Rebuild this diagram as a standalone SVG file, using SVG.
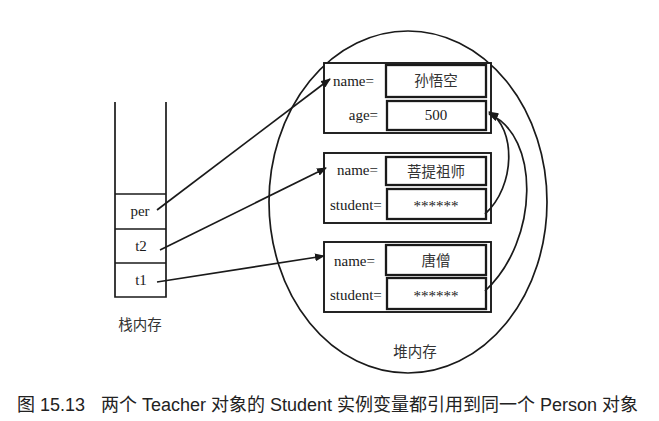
<svg xmlns="http://www.w3.org/2000/svg" width="659" height="421" viewBox="0 0 659 421">
<defs>
<style>
.ln{fill:none;stroke:#1a1a1a;stroke-width:1.7}
.ob{fill:#fff;stroke:#1a1a1a;stroke-width:1.9}
.vb{fill:#fff;stroke:#1a1a1a;stroke-width:2.3}
.lab{font-family:"Liberation Serif","Times New Roman",serif;font-size:15px;fill:#1a1a1a}
.cn{font-family:"Liberation Sans","Noto Sans CJK SC",sans-serif;font-size:14.5px;fill:#333}
.cap{font-family:"Liberation Sans","Noto Sans CJK SC",sans-serif;font-size:18px;fill:#222}
.ar{fill:none;stroke:#1a1a1a;stroke-width:1.7;marker-end:url(#ah)}
</style>
<marker id="ah" markerWidth="10" markerHeight="8" refX="9" refY="4" orient="auto" markerUnits="userSpaceOnUse">
<path d="M0,0 L10,4 L0,8 Z" fill="#1a1a1a"/>
</marker>
</defs>
<rect width="659" height="421" fill="#fff"/>

<g id="heap">
<ellipse cx="408" cy="202" rx="139" ry="171" class="ln" stroke-width="2"/>
<text x="415" y="357" class="cn" text-anchor="middle">堆内存</text>
</g>

<g id="stack">
<path d="M115,102 V297 H166 V102" class="ln"/>
<line x1="115" y1="194" x2="166" y2="194" class="ln"/>
<line x1="115" y1="229" x2="166" y2="229" class="ln"/>
<line x1="115" y1="263" x2="166" y2="263" class="ln"/>
<text x="140" y="216" class="lab" text-anchor="middle">per</text>
<text x="141" y="251" class="lab" text-anchor="middle">t2</text>
<text x="141" y="285" class="lab" text-anchor="middle">t1</text>
<text x="140" y="330" class="cn" text-anchor="middle">栈内存</text>
</g>

<g id="obj-person">
<rect x="324" y="63" width="167" height="70" class="ob"/>
<rect x="386" y="65" width="100" height="32" class="vb"/>
<rect x="387" y="101" width="99" height="29" class="vb"/>
<text x="333" y="86" class="lab">name=</text>
<text x="378" y="120" class="lab" text-anchor="end">age=</text>
<text x="436" y="86" class="cn" text-anchor="middle">孙悟空</text>
<text x="436" y="120" class="lab" text-anchor="middle">500</text>
</g>

<g id="obj-teacher1">
<rect x="324" y="153" width="167" height="70" class="ob"/>
<rect x="386" y="157" width="100" height="28" class="vb"/>
<rect x="387" y="189" width="99" height="30" class="vb"/>
<text x="337" y="175" class="lab">name=</text>
<text x="330" y="210" class="lab">student=</text>
<text x="436" y="177" class="cn" text-anchor="middle">菩提祖师</text>
<text x="436" y="211" class="lab" text-anchor="middle" font-size="12">******</text>
</g>

<g id="obj-teacher2">
<rect x="324" y="242" width="167" height="70" class="ob"/>
<rect x="386" y="245" width="100" height="30" class="vb"/>
<rect x="387" y="278" width="99" height="31" class="vb"/>
<text x="334" y="266" class="lab">name=</text>
<text x="330" y="300" class="lab">student=</text>
<text x="436" y="266" class="cn" text-anchor="middle">唐僧</text>
<text x="436" y="301" class="lab" text-anchor="middle" font-size="12">******</text>
</g>

<g id="connectors">
<line x1="157" y1="210" x2="330" y2="79" class="ar"/>
<line x1="160" y1="250" x2="326" y2="168" class="ar"/>
<line x1="157" y1="282" x2="324" y2="256" class="ar"/>
<path d="M485,214 C516,186 516,128 489,112" class="ar"/>
<path d="M485,291 C540,240 540,135 489,114" class="ar"/>
</g>

<g id="caption">
<text x="17" y="411" class="cap">图 15.13</text>
<text x="101" y="411" class="cap">两个 Teacher 对象的 Student 实例变量都引用到同一个 Person 对象</text>
</g>
</svg>
